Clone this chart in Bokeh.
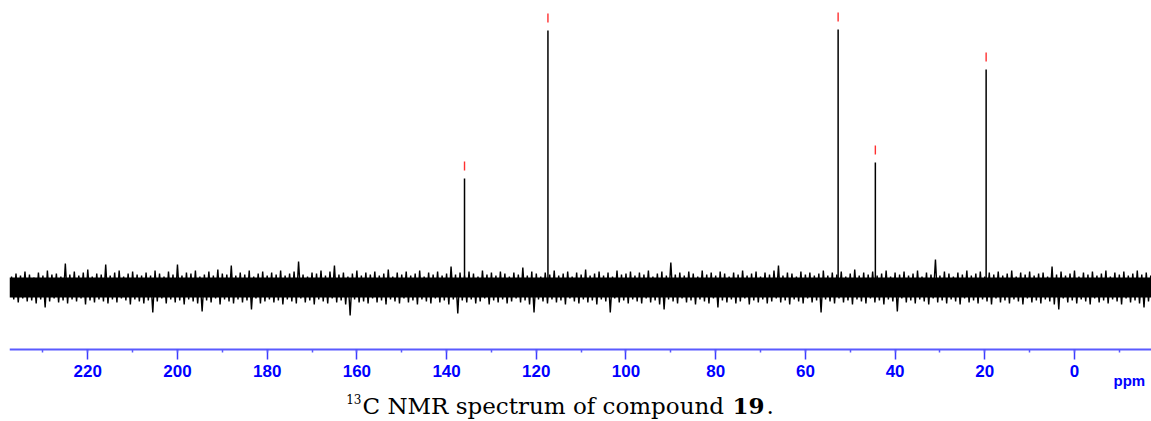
import numpy as np
from bokeh.plotting import figure
from bokeh.models import Range1d, Label, SingleIntervalTicker, LinearAxis
from bokeh.embed import file_html
from bokeh.resources import INLINE

# ---- data ----
peak_ppm = [136.0, 117.4, 52.7, 44.4, 19.7]
peak_height = [109, 257, 258, 125, 218]          # arbitrary intensity units, baseline = 0

noise_ppm = np.arange(237, -18, -1)               # sampling positions of the noise trace
noise_upper = [
    11, 14, 12, 16, 13, 10, 15, 12, 17, 13,
    14, 11, 24, 13, 16, 12, 15, 18, 11, 14,
    13, 23, 12, 15, 17, 11, 14, 16, 13, 12,
    15, 12, 17, 14, 11, 16, 13, 23, 12, 15,
    14, 17, 11, 13, 16, 12, 18, 14, 13, 22,
    12, 15, 13, 17, 11, 14, 16, 12, 15, 13,
    17, 12, 14, 16, 26, 13, 11, 15, 14, 17,
    12, 16, 22, 13, 15, 11, 14, 17, 12, 15,
    13, 16, 12, 14, 18, 11, 15, 13, 16, 12,
    14, 17, 11, 15, 13, 16, 12, 14, 21, 13,
    15, 12, 16, 14, 11, 17, 13, 15, 12, 16,
    14, 11, 15, 13, 20, 12, 16, 14, 11, 15,
    13, 17, 12, 14, 16, 11, 15, 13, 18, 12,
    14, 16, 12, 15, 11, 17, 13, 14, 16, 12,
    15, 13, 17, 11, 14, 16, 12, 25, 13, 15,
    12, 16, 14, 11, 17, 13, 15, 12, 16, 14,
    11, 15, 13, 17, 12, 14, 16, 11, 15, 13,
    17, 22, 12, 15, 14, 11, 16, 13, 15, 12,
    14, 17, 12, 15, 13, 16, 11, 14, 18, 12,
    15, 13, 16, 12, 14, 17, 11, 15, 13, 16,
    12, 14, 17, 11, 15, 13, 28, 12, 16, 14,
    11, 15, 13, 17, 12, 14, 16, 11, 15, 13,
    16, 12, 14, 17, 11, 15, 13, 16, 12, 14,
    15, 11, 21, 13, 16, 12, 14, 17, 11, 15,
    13, 16, 12, 14, 17, 11, 15, 13, 16, 12,
    14, 17, 13, 15, 12,
]
noise_lower = [
    -12, -15, -11, -14, -13, -16, -12, -20, -14, -11,
    -15, -13, -16, -12, -14, -11, -17, -13, -15, -12,
    -14, -16, -12, -15, -11, -13, -17, -12, -14, -16,
    -13, -25, -14, -11, -16, -12, -15, -13, -17, -12,
    -14, -16, -24, -13, -15, -11, -17, -12, -14, -16,
    -12, -15, -13, -22, -11, -16, -14, -12, -15, -13,
    -17, -12, -14, -16, -11, -15, -13, -17, -12, -14,
    -16, -11, -15, -13, -17, -28, -12, -15, -14, -16,
    -11, -15, -13, -17, -12, -14, -16, -11, -15, -13,
    -17, -12, -14, -16, -11, -15, -13, -17, -12, -26,
    -13, -15, -12, -16, -14, -11, -17, -13, -15, -12,
    -16, -14, -11, -15, -13, -17, -25, -12, -14, -16,
    -12, -15, -13, -17, -11, -14, -16, -12, -15, -13,
    -17, -12, -14, -25, -11, -15, -13, -16, -12, -14,
    -16, -11, -15, -13, -17, -22, -12, -14, -16, -11,
    -15, -13, -17, -12, -14, -16, -11, -20, -13, -15,
    -12, -16, -14, -11, -17, -13, -15, -12, -16, -14,
    -11, -15, -13, -17, -12, -14, -16, -11, -15, -13,
    -25, -12, -14, -16, -11, -15, -13, -17, -12, -14,
    -16, -11, -15, -13, -17, -12, -14, -24, -11, -15,
    -13, -16, -12, -14, -17, -11, -15, -13, -16, -12,
    -14, -17, -11, -15, -13, -16, -12, -14, -17, -11,
    -15, -13, -16, -12, -14, -17, -11, -15, -13, -16,
    -12, -14, -17, -22, -11, -15, -13, -16, -12, -14,
    -17, -11, -15, -13, -16, -12, -14, -17, -11, -15,
    -13, -16, -20, -14, -12,
]
core_level = 10
axis_level = -61.7                                # where the ppm axis crosses, in intensity units

# ---- layout constants (page pixels) ----
W, H = 1151, 421
B_LEFT = 9
X0, X1 = 237.45, -17.17
Y1 = 287                                          # data y at the top of the frame
Y0 = Y1 - H

p = figure(width=W, height=H, x_range=Range1d(X0, X1), y_range=Range1d(Y0, Y1),
           x_axis_location=None, y_axis_location=None,
           output_backend="svg", toolbar_location=None,
           min_border_left=B_LEFT, min_border_right=0, min_border_top=0,
           min_border_bottom=0)
p.grid.visible = False
p.outline_line_color = None
p.background_fill_color = "white"
p.border_fill_color = "white"

def px_x(px):   # page-pixel x -> data x
    return X0 + (px - B_LEFT) * (X1 - X0) / (W - B_LEFT)

def px_y(py):   # page-pixel y -> data y
    return Y1 - py

# noise band
xs = np.empty(2 * len(noise_ppm))
ys = np.empty(2 * len(noise_ppm))
xs[0::2] = noise_ppm
xs[1::2] = noise_ppm - 0.5
ys[0::2] = noise_upper
ys[1::2] = noise_lower
p.varea(x=[X0, X1], y1=[-core_level, -core_level], y2=[core_level, core_level], color="black")
p.line(xs, ys, line_color="black", line_width=1.4)

# peaks
p.segment(x0=peak_ppm, y0=[0] * len(peak_ppm), x1=peak_ppm, y1=peak_height,
          line_color="black", line_width=1.5)
# peak-pick markers
mk0 = [h + 8 for h in peak_height]
mk1 = [h + 17 for h in peak_height]
p.segment(x0=peak_ppm, y0=mk0, x1=peak_ppm, y1=mk1, line_color="#ff3030", line_width=1.4)

# axis
ax = LinearAxis(fixed_location=axis_level)
p.add_layout(ax, "below")
ax.ticker = SingleIntervalTicker(interval=20, num_minor_ticks=2)
ax.axis_line_color = "#5a5aff"
ax.axis_line_width = 2
ax.major_tick_line_color = "#3a3aff"
ax.major_tick_line_width = 1.5
ax.major_tick_in = 0
ax.major_tick_out = 10
ax.minor_tick_line_color = "#5a5aff"
ax.minor_tick_line_width = 1.5
ax.minor_tick_in = 0
ax.minor_tick_out = 3
ax.major_label_text_color = "#0000ff"
ax.major_label_text_font = "Liberation Sans"
ax.major_label_text_font_style = "bold"
ax.major_label_text_font_size = "17px"
ax.major_label_standoff = 6

p.add_layout(Label(x=px_x(1113), y=px_y(380), text="ppm", text_color="#0000ff",
                   text_font="Liberation Sans", text_font_style="bold",
                   text_font_size="15px", text_align="left", text_baseline="alphabetic"))

# caption
cap_font = "DejaVu Serif"
p.add_layout(Label(x=px_x(361), y=px_y(398), text="13", text_font=cap_font, text_color="black",
                   text_font_size="12px", text_align="right", text_baseline="alphabetic"))
p.add_layout(Label(x=px_x(362), y=px_y(405), text="C NMR spectrum of compound", text_font=cap_font,
                   text_color="black",
                   text_font_size="23px", text_align="left", text_baseline="alphabetic"))
p.add_layout(Label(x=px_x(732), y=px_y(405), text="19", text_font=cap_font, text_color="black",
                   text_font_style="bold",
                   text_font_size="23px", text_align="left", text_baseline="alphabetic"))
p.add_layout(Label(x=px_x(766), y=px_y(405), text=".", text_font=cap_font, text_color="black",
                   text_font_size="23px", text_align="left", text_baseline="alphabetic"))

open("out.html", "w").write(file_html(p, INLINE))
